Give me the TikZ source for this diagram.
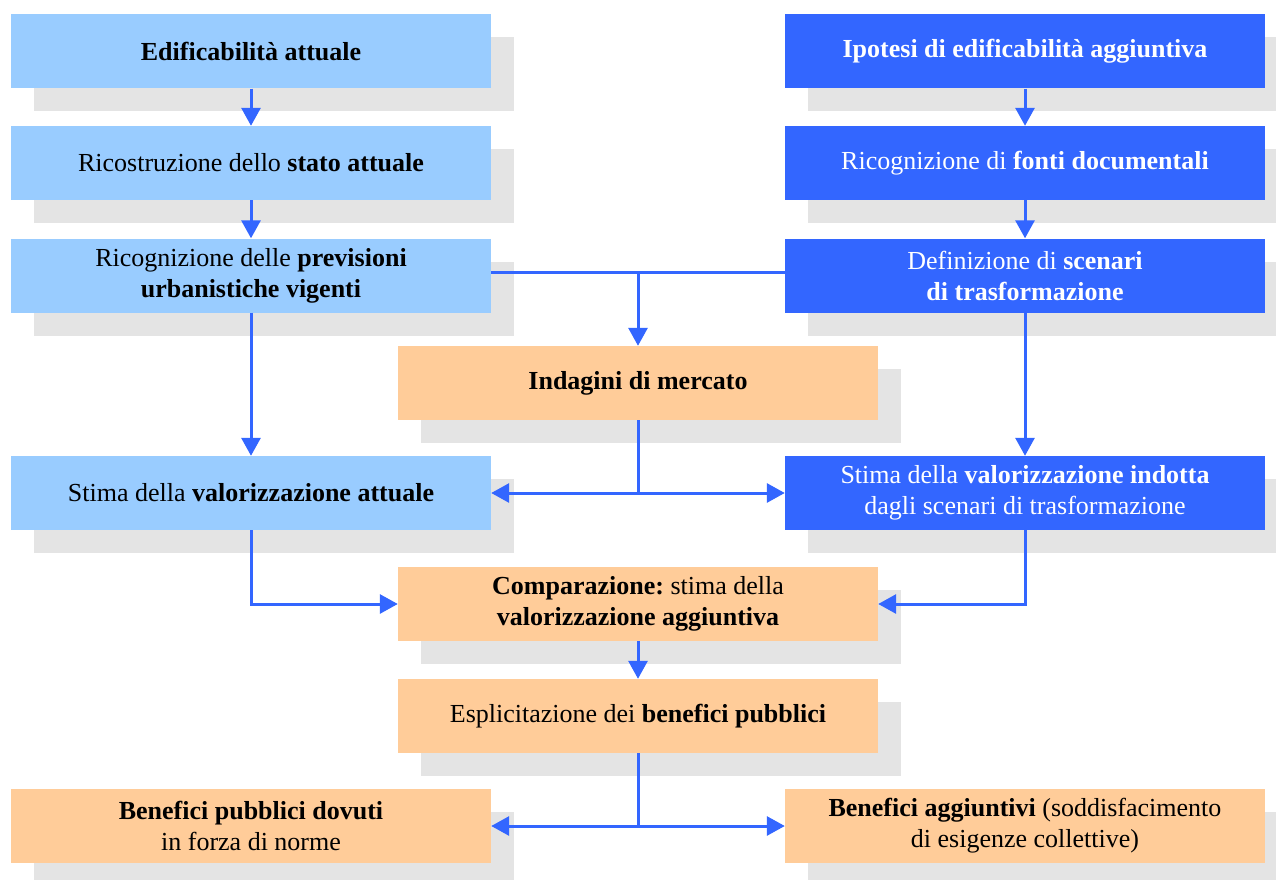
\documentclass[tikz,border=0pt]{standalone}
\usepackage{fontspec}
\setmainfont{Liberation Serif}
\frenchspacing
\definecolor{lightblue}{HTML}{99CCFF}
\definecolor{strongblue}{HTML}{3366FF}
\definecolor{peach}{HTML}{FFCC99}
\definecolor{shadowgray}{HTML}{E4E4E4}
\usetikzlibrary{positioning, arrows.meta, shadows}

\begin{document}
\begin{tikzpicture}[x=1pt,y=-1pt]
                    \tikzstyle{box} = [rectangle, minimum width=480pt, minimum height=74pt, inner sep=0pt, align=center, font=\fontsize{26}{31}\selectfont, drop shadow={shadow xshift=23pt, shadow yshift=-23pt, fill=shadowgray, opacity=1}]
                    \tikzstyle{light} = [box, fill=lightblue]
                    \tikzstyle{dark} = [box, fill=strongblue, text=white]
                    \tikzstyle{warm} = [box, fill=peach]
                    \tikzstyle{link} = [strongblue, line width=3pt]
                    \tikzstyle{edge} = [link, -{Triangle[length=18pt,width=19pt]}]

                    \useasboundingbox (0,0) rectangle (1276,880);

                    \node[light](l1) at (251,51.5) {\textbf{Edificabilità attuale}};
                    \node[light](l2) at (251,163) {Ricostruzione dello \textbf{stato attuale}};
                    \node[light](l3) at (251,275.5) {Ricognizione delle \textbf{previsioni}\\\textbf{urbanistiche vigenti}};
                    \node[light](l4) at (251,493) {Stima della \textbf{valorizzazione attuale}};

                    \node[dark](r1) at (1025,51.5) {\textbf{Ipotesi di edificabilità aggiuntiva}};
                    \node[dark](r2) at (1025,163) {Ricognizione di \textbf{fonti documentali}};
                    \node[dark](r3) at (1025,275.5) {Definizione di \textbf{scenari}\\\textbf{di trasformazione}};
                    \node[dark](r4) at (1025,493) {Stima della \textbf{valorizzazione indotta}\\dagli scenari di trasformazione};

                    \node[warm](m1) at (638,383) {\textbf{Indagini di mercato}};
                    \node[warm](m2) at (638,604) {\textbf{Comparazione:} stima della\\\textbf{valorizzazione aggiuntiva}};
                    \node[warm](m3) at (638,716) {Esplicitazione dei \textbf{benefici pubblici}};

                    \node[warm](b1) at (251,826) {\textbf{Benefici pubblici dovuti}\\in forza di norme};
                    \node[warm](b2) at (1025,826) {\textbf{Benefici aggiuntivi} (soddisfacimento\\di esigenze collettive)};

                    % columns
                    \draw[edge] (l1) -- (l2);
                    \draw[edge] (l2) -- (l3);
                    \draw[edge] (l3) -- (l4);
                    \draw[edge] (r1) -- (r2);
                    \draw[edge] (r2) -- (r3);
                    \draw[edge] (r3) -- (r4);

                    % market survey
                    \draw[link] ([yshift=3pt]l3.east) -- ([yshift=3pt]r3.west);
                    \draw[edge] ([yshift=3pt]l3.east -| m1.north) -- (m1);
                    \draw[link] (m1) -- (m1 |- l4.east);
                    \draw[edge] (m1 |- l4.east) -- (l4);
                    \draw[edge] (m1 |- l4.east) -- (r4);

                    % comparison
                    \draw[edge] (l4) |- (m2);
                    \draw[edge] (r4) |- (m2);
                    \draw[edge] (m2) -- (m3);

                    % benefits
                    \draw[link] (m3) -- (m3 |- b1.east);
                    \draw[edge] (m3 |- b1.east) -- (b1);
                    \draw[edge] (m3 |- b1.east) -- (b2);
\end{tikzpicture}
\end{document}
